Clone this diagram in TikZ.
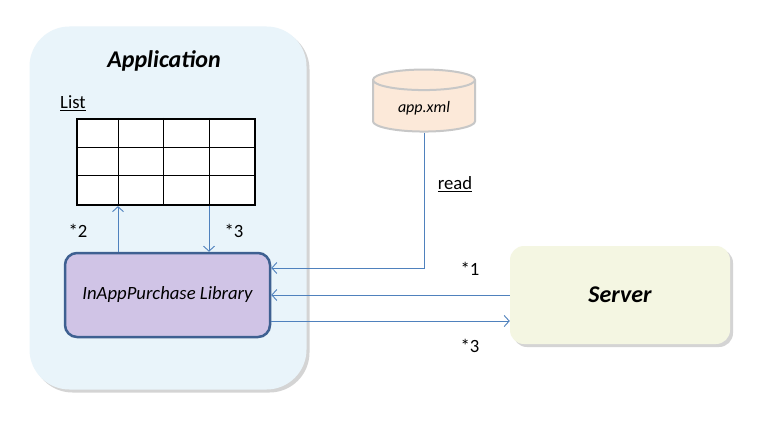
\documentclass[tikz,border=0pt]{standalone}
\usepackage{fontspec}
\setmainfont{Carlito}
\usepackage{tikz}
\usetikzlibrary{arrows.meta,shapes.geometric,shadows}

\definecolor{appfill}{RGB}{233,244,250}
\definecolor{libfill}{RGB}{208,196,230}
\definecolor{libline}{RGB}{62,96,145}
\definecolor{srvfill}{RGB}{244,246,226}
\definecolor{xmlfill}{RGB}{252,233,217}
\definecolor{linkblue}{RGB}{79,129,189}

\tikzset{
  flow/.style={draw=linkblue, line width=0.9pt, -{Straight Barb[length=5pt,width=11pt]}},
  lbl/.style={font=\fontsize{18.7}{22}\selectfont, inner sep=0pt},
  title/.style={font=\fontsize{24}{28}\selectfont\bfseries\itshape, inner sep=0pt},
  softshadow/.style={drop shadow={shadow xshift=3pt, shadow yshift=-3pt, opacity=0.3, fill=black!55}}
}

\begin{document}
\begin{tikzpicture}[x=1pt,y=-1pt]
  \useasboundingbox[fill=white] (0,0) rectangle (759,425);
  % Boxes
  \node[fill=appfill, rounded corners=40pt, softshadow, minimum width=277pt, minimum height=363pt] (app) at (168,208) {};
  \node[title] (apptitle) at (164,61) {Application};
  \node[lbl] (listlbl) at (73,103) {\underline{List}};
  \node[draw, fill=white, line width=2.2pt, minimum width=178pt, minimum height=86pt, inner sep=0pt] (list) at (166,162) {};
  \node[draw=libline, fill=libfill, line width=2.5pt, rounded corners=12pt, minimum width=205pt, minimum height=84pt,
        font=\fontsize{18.7}{22}\selectfont\itshape] (lib) at (167.5,295) {InAppPurchase Library};
  \node[cylinder, shape border rotate=90, aspect=0.35, draw=black!22, line width=2pt, fill=xmlfill,
        minimum width=102pt, minimum height=62pt, font=\fontsize{16}{19}\selectfont\itshape] (xml) at (424,108) {app.xml};
  \node[fill=srvfill, rounded corners=14pt, softshadow, minimum width=220pt, minimum height=98pt,
        font=\fontsize{24}{28}\selectfont\bfseries\itshape] (server) at (620,295) {Server};
  % Grid
  \foreach \x in {118,163,209} {
    \draw[line width=1pt] (list.north -| \x,0) -- (list.south -| \x,0);
  }
  \foreach \y in {147,175} {
    \draw[line width=1pt] (list.west |- 0,\y) -- (list.east |- 0,\y);
  }
  % Edges
  \draw[flow] (lib.north -| 118,0) -- (list.south -| 118,0);
  \draw[flow] (list.south -| 209,0) -- (lib.north -| 209,0);
  \draw[flow] (xml.south) |- ([yshift=27pt]lib.east);
  \draw[flow] (server.west) -- (lib.east);
  \draw[flow] ([yshift=-26pt]lib.east) -- ([yshift=-26pt]lib.east -| server.west);
  % Labels
  \node[lbl] (s2) at (78,231) {*2};
  \node[lbl] (s3a) at (234,231) {*3};
  \node[lbl] (readlbl) at (455,184) {\underline{read}};
  \node[lbl] (s1) at (470,269) {*1};
  \node[lbl] (s3b) at (470,346) {*3};
\end{tikzpicture}
\end{document}
